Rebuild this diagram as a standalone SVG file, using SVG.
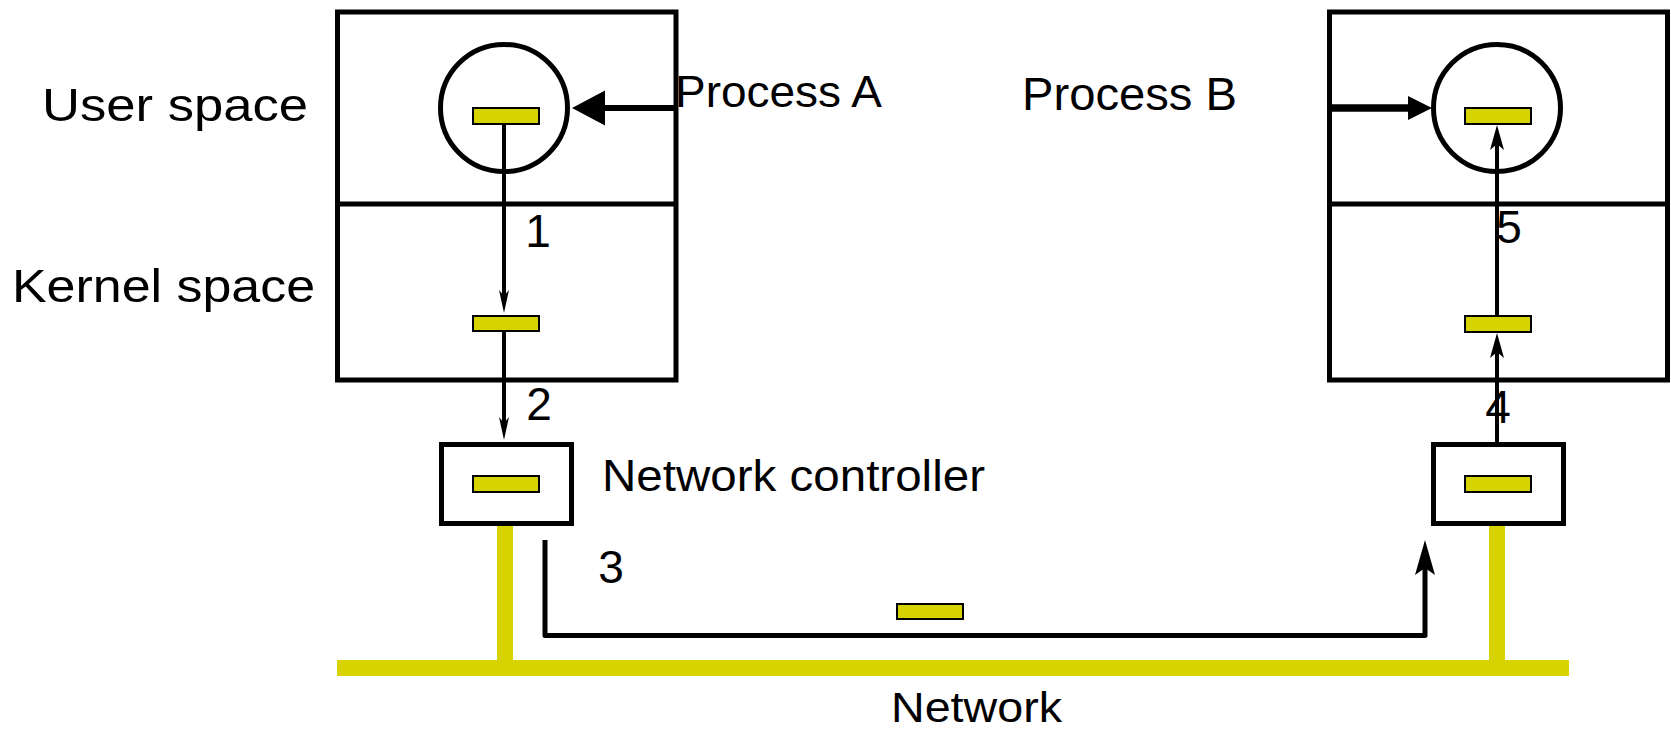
<svg xmlns="http://www.w3.org/2000/svg" width="1671" height="729" viewBox="0 0 1671 729">
<style>
  .box { fill: #ffffff; stroke: #000000; stroke-width: 5; }
  .div { stroke: #000000; stroke-width: 5; fill: none; }
  .pkt { fill: #d6d300; stroke: #000000; stroke-width: 2; }
  .bus { fill: #d6d300; stroke: none; }
  .lbl { font-family: "Liberation Sans", Arial, Helvetica, sans-serif; fill: #000000; }
  .num { font-family: "Liberation Sans", Arial, Helvetica, sans-serif; fill: #000000; font-size: 46px; text-anchor: middle; }
  .thin { stroke: #000000; stroke-width: 4; fill: none; }
  .thick { stroke: #000000; stroke-width: 5; fill: none; stroke-linejoin: round; }
  .heavyA { stroke: #000000; stroke-width: 6; fill: none; }
  .heavyB { stroke: #000000; stroke-width: 7.5; fill: none; }
</style>
<defs>
  <marker id="arrSmall" markerUnits="userSpaceOnUse" viewBox="-16 -8 28 16" refX="0" refY="0" markerWidth="28" markerHeight="16" orient="auto">
    <path d="M10,0 L-13,-5 L-7,0 L-13,5 Z" fill="#000000"/>
  </marker>
  <marker id="arrMed" markerUnits="userSpaceOnUse" viewBox="-18 -9 30 18" refX="0" refY="0" markerWidth="30" markerHeight="18" orient="auto">
    <path d="M10,0 L-15,-7 L-9,0 L-15,7 Z" fill="#000000"/>
  </marker>
  <marker id="arrBig" markerUnits="userSpaceOnUse" viewBox="-28 -12 40 24" refX="0" refY="0" markerWidth="40" markerHeight="24" orient="auto">
    <path d="M10,0 L-25,-10 L-18,0 L-25,10 Z" fill="#000000"/>
  </marker>
  <marker id="triA" markerUnits="userSpaceOnUse" viewBox="-26 -20 38 40" refX="0" refY="0" markerWidth="38" markerHeight="40" orient="auto">
    <path d="M10,0 L-23,-17.5 L-23,17.5 Z" fill="#000000"/>
  </marker>
  <marker id="triB" markerUnits="userSpaceOnUse" viewBox="-16 -14 28 28" refX="0" refY="0" markerWidth="28" markerHeight="28" orient="auto">
    <path d="M10,0 L-14,-12 L-14,12 Z" fill="#000000"/>
  </marker>
</defs>

<rect width="1671" height="729" fill="#ffffff"/>

<!-- Network bus -->
<g id="network">
  <rect class="bus" x="337" y="660" width="1232" height="16"/>
  <rect class="bus" x="497" y="523" width="16" height="140"/>
  <rect class="bus" x="1489" y="523" width="16" height="140"/>
  <text class="lbl" x="891" y="722" font-size="43" textLength="171" lengthAdjust="spacingAndGlyphs">Network</text>
</g>

<!-- Host A -->
<g id="hostA">
  <rect class="box" x="337.5" y="12" width="338.5" height="368"/>
  <line class="div" x1="337.5" y1="204" x2="676" y2="204"/>
</g>
<g id="processA">
  <circle class="box" cx="504" cy="108" r="63.5"/>
  <rect class="pkt" x="473" y="108" width="66" height="16"/>
</g>
<g id="kernelA-buffer">
  <rect class="pkt" x="473" y="316" width="66" height="15"/>
</g>
<g id="controllerA">
  <rect class="box" x="441.5" y="444.5" width="130" height="79"/>
  <rect class="pkt" x="473" y="476" width="66" height="16"/>
</g>

<!-- Host B -->
<g id="hostB">
  <rect class="box" x="1329.5" y="12" width="338" height="368"/>
  <line class="div" x1="1329.5" y1="204" x2="1667.5" y2="204"/>
</g>
<g id="processB">
  <circle class="box" cx="1497" cy="108" r="63.5"/>
  <rect class="pkt" x="1465" y="108" width="66" height="16"/>
</g>
<g id="kernelB-buffer">
  <rect class="pkt" x="1465" y="316" width="66" height="16"/>
</g>
<g id="controllerB">
  <rect class="box" x="1433.5" y="444.5" width="130" height="79"/>
  <rect class="pkt" x="1465" y="476" width="66" height="16"/>
</g>

<g id="packet-in-transit">
  <rect class="pkt" x="897" y="604" width="66" height="15"/>
</g>

<!-- Connectors -->
<g id="connectors">
  <line class="thin" x1="504" y1="125" x2="504" y2="303" marker-end="url(#arrSmall)"/>
  <line class="thin" x1="504" y1="332" x2="504" y2="430" marker-end="url(#arrSmall)"/>
  <path class="thick" d="M545,540 V635.5 H1425 V550" marker-end="url(#arrBig)"/>
  <line class="thin" x1="1497" y1="442" x2="1497" y2="343" marker-end="url(#arrMed)"/>
  <line class="thin" x1="1497" y1="316" x2="1497" y2="135" marker-end="url(#arrMed)"/>
  <line class="heavyA" x1="676" y1="108" x2="582" y2="108" marker-end="url(#triA)"/>
  <line class="heavyB" x1="1329.5" y1="108" x2="1422" y2="108" marker-end="url(#triB)"/>
</g>

<!-- Labels -->
<g id="labels">
  <text class="lbl" x="42" y="121" font-size="47" textLength="266" lengthAdjust="spacingAndGlyphs">User space</text>
  <text class="lbl" x="12" y="302" font-size="46" textLength="303" lengthAdjust="spacingAndGlyphs">Kernel space</text>
  <text class="lbl" x="675" y="107" font-size="45" textLength="207" lengthAdjust="spacingAndGlyphs">Process A</text>
  <text class="lbl" x="1022" y="110" font-size="46" textLength="215" lengthAdjust="spacingAndGlyphs">Process B</text>
  <text class="lbl" x="602" y="491" font-size="44" textLength="383" lengthAdjust="spacingAndGlyphs">Network controller</text>
  <text class="num" x="538" y="247">1</text>
  <text class="num" x="539" y="420">2</text>
  <text class="num" x="611" y="583" font-size="47">3</text>
  <text class="num" x="1498" y="423">4</text>
  <text class="num" x="1509" y="243">5</text>
</g>
</svg>
